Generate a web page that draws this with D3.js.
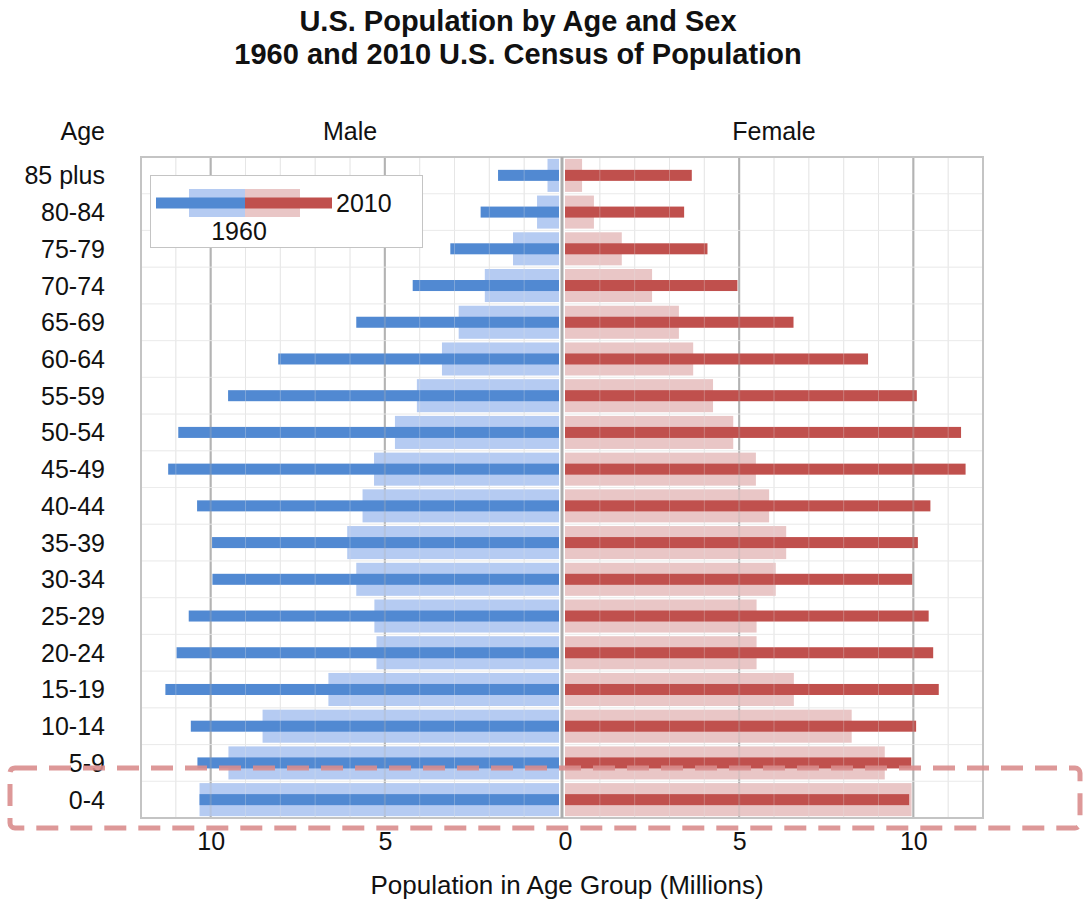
<!DOCTYPE html>
<html><head><meta charset="utf-8">
<script src="https://cdn.jsdelivr.net/npm/d3@7"></script>
<style>body{margin:0;background:#fff}text{font-family:"Liberation Sans",Arial,sans-serif;fill:#111}</style>
</head><body><svg id="c" width="1083" height="900"></svg>
<script>
const ages = ["85 plus","80-84","75-79","70-74","65-69","60-64","55-59","50-54","45-49","40-44","35-39","30-34","25-29","20-24","15-19","10-14","5-9","0-4"];
const male2010   = [1.75,2.25,3.12,4.20,5.82,8.06,9.50,10.93,11.22,10.39,9.96,9.95,10.63,10.98,11.30,10.57,10.38,10.32];
const female2010 = [3.64,3.42,4.09,4.95,6.56,8.70,10.10,11.37,11.50,10.49,10.13,9.97,10.44,10.57,10.73,10.08,9.94,9.88];
const male1960   = [0.33,0.63,1.32,2.13,2.88,3.36,4.08,4.71,5.31,5.64,6.08,5.82,5.30,5.24,6.62,8.51,9.49,10.32];
const female1960 = [0.49,0.83,1.63,2.50,3.27,3.68,4.25,4.83,5.48,5.86,6.35,6.05,5.50,5.50,6.57,8.23,9.18,9.95];
const maleTicks = [10,5];
const femaleTicks = [0,5,10];

const svg = d3.select("#c");
const yTop = 157, yBot = 818;
const y = d3.scaleBand().domain(ages).range([yTop,yBot]);
const xM = d3.scaleLinear().domain([0,12]).range([559,141]);
const xF = d3.scaleLinear().domain([0,12]).range([565,983]);
const bw = y.bandwidth();
const C = {dB:"#5189d2", lB:"#b5cbf2", dR:"#c0504d", lR:"#e9c6c6"};

// titles
svg.append("text").attr("x",518).attr("y",31).attr("text-anchor","middle").attr("font-size",29).attr("font-weight","bold").text("U.S. Population by Age and Sex");
svg.append("text").attr("x",518).attr("y",64).attr("text-anchor","middle").attr("font-size",29).attr("font-weight","bold").text("1960 and 2010 U.S. Census of Population");
svg.append("text").attr("x",105).attr("y",140).attr("text-anchor","end").attr("font-size",25).text("Age");
svg.append("text").attr("x",xM(6)).attr("y",140).attr("text-anchor","middle").attr("font-size",25).text("Male");
svg.append("text").attr("x",xF(6)).attr("y",140).attr("text-anchor","middle").attr("font-size",25).text("Female");

function grid(g, op){
  const units = d3.range(1,13);
  [xM,xF].forEach(x=>{
    units.forEach(u=>{
      const major = u%5===0;
      g.append("line").attr("x1",x(u)).attr("x2",x(u)).attr("y1",yTop).attr("y2",yBot)
        .attr("stroke",major?"#b3b3b3":"#e6e6e6").attr("stroke-width",major?2:1).attr("opacity",op);
    });
    ages.slice(1).forEach(a=>{
      g.append("line").attr("x1",x.range()[0]).attr("x2",x.range()[1]).attr("y1",y(a)).attr("y2",y(a))
        .attr("stroke","#ececec").attr("stroke-width",1).attr("opacity",op);
    });
  });
}
const g0 = svg.append("g"); grid(g0,1);

const bars = svg.append("g");
ages.forEach((a,i)=>{
  const yc = y(a)+bw/2, hL = bw*0.9, hD = bw*0.3;
  bars.append("rect").attr("x",xM(male1960[i])).attr("y",yc-hL/2).attr("width",xM(0)-xM(male1960[i])).attr("height",hL).attr("fill",C.lB);
  bars.append("rect").attr("x",xF(0)).attr("y",yc-hL/2).attr("width",xF(female1960[i])-xF(0)).attr("height",hL).attr("fill",C.lR);
  bars.append("rect").attr("x",xM(male2010[i])).attr("y",yc-hD/2).attr("width",xM(0)-xM(male2010[i])).attr("height",hD).attr("fill",C.dB);
  bars.append("rect").attr("x",xF(0)).attr("y",yc-hD/2).attr("width",xF(female2010[i])-xF(0)).attr("height",hD).attr("fill",C.dR);
});
const g1 = svg.append("g"); grid(g1,0.3);

// frame + center line
svg.append("rect").attr("x",xM(12)).attr("y",yTop).attr("width",xF(12)-xM(12)).attr("height",yBot-yTop).attr("fill","none").attr("stroke","#c4c4c4").attr("stroke-width",2);
svg.append("line").attr("x1",(xM(0)+xF(0))/2).attr("x2",(xM(0)+xF(0))/2).attr("y1",yTop).attr("y2",yBot).attr("stroke","#adadad").attr("stroke-width",3);

// age labels
ages.forEach(a=>{
  svg.append("text").attr("x",105).attr("y",y(a)+bw/2+9).attr("text-anchor","end").attr("font-size",25).text(a);
});

// axes
const axM = svg.append("g").attr("transform",`translate(0,${yBot})`).call(d3.axisBottom(xM).tickValues(maleTicks).tickSize(0));
const axF = svg.append("g").attr("transform",`translate(0,${yBot})`).call(d3.axisBottom(xF).tickValues(femaleTicks).tickSize(0));
[axM,axF].forEach(ax=>{
  ax.select(".domain").remove();
  ax.selectAll("text").attr("y",32).attr("dy",null).attr("font-size",25)
    .attr("font-family","Liberation Sans, Arial, sans-serif").attr("fill","#111");
});
svg.append("text").attr("x",567).attr("y",894).attr("text-anchor","middle").attr("font-size",26).text("Population in Age Group (Millions)");

// legend
const lg = svg.append("g");
lg.append("rect").attr("x",150.5).attr("y",175.5).attr("width",272).attr("height",72).attr("fill","#fff").attr("stroke","#c4c4c4").attr("stroke-width",1);
lg.append("rect").attr("x",189).attr("y",189).attr("width",56).attr("height",28).attr("fill",C.lB);
lg.append("rect").attr("x",245).attr("y",189).attr("width",55).attr("height",28).attr("fill",C.lR);
lg.append("rect").attr("x",156).attr("y",197.5).attr("width",89).attr("height",11).attr("fill",C.dB);
lg.append("rect").attr("x",245).attr("y",197.5).attr("width",87).attr("height",11).attr("fill",C.dR);
lg.append("text").attr("x",336).attr("y",212).attr("font-size",25).text("2010");
lg.append("text").attr("x",239).attr("y",240).attr("text-anchor","middle").attr("font-size",25).text("1960");

// highlight annotation
svg.append("rect").attr("x",10).attr("y",768).attr("width",1070).attr("height",60).attr("rx",5)
  .attr("fill","none").attr("stroke","#d98d8d").attr("stroke-opacity",0.9).attr("stroke-width",5).attr("stroke-dasharray","22 12");
</script></body></html>
